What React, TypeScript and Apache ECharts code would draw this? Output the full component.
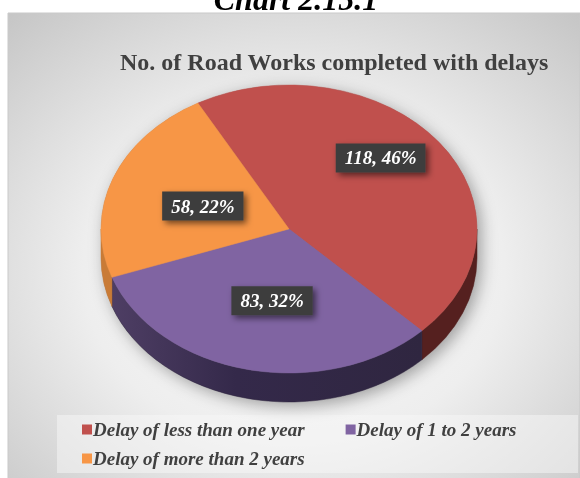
import React, { useEffect, useRef } from "react";
import * as echarts from "echarts";

const categories = [
  "Delay of less than one year",
  "Delay of 1 to 2 years",
  "Delay of more than 2 years",
];
const values = [118, 83, 58];
const topColors = ["#C0504D", "#8064A2", "#F79646"];
const chartTitle = "No. of Road Works completed with delays";
const pageTitle = "Chart 2.15.1";

// geometry / style (not data)
const CX = 289;
const CY = 229;
const RX = 188;
const RY = 144;
const DEPTH = 29;
const START_DEG = -29;
const labelFrac: number[][] = [
  [0.61, 0.82],
  [0.41, 0.51],
  [0.49, 0.45],
];

const total = values.reduce((a, b) => a + b, 0);
const deg = Math.PI / 180;

function angles(i: number): [number, number] {
  let s = START_DEG * deg;
  for (let k = 0; k < i; k++) s += (values[k] / total) * 2 * Math.PI;
  const e = s + (values[i] / total) * 2 * Math.PI;
  return [s, e];
}
function pt(t: number, dy = 0): string {
  return `${(CX + RX * Math.sin(t)).toFixed(2)} ${(CY - RY * Math.cos(t) + dy).toFixed(2)}`;
}

function topFace(i: number, api: any) {
  const [s, e] = angles(i);
  const large = e - s > Math.PI ? 1 : 0;
  const d = `M ${CX} ${CY} L ${pt(s)} A ${RX} ${RY} 0 ${large} 1 ${pt(e)} Z`;
  const mid = (s + e) / 2;
  const [fx, fy] = labelFrac[i];
  const lx = CX + fx * RX * Math.sin(mid);
  const ly = CY - fy * RY * Math.cos(mid);
  const v = api.value(0);
  const pct = Math.round((v / total) * 100);
  return {
    type: "group",
    children: [
      {
        type: "path",
        shape: { pathData: d },
        style: { fill: topColors[i], stroke: topColors[i], lineWidth: 0.5 },
        silent: true,
      },
      {
        type: "text",
        x: lx,
        y: ly,
        silent: true,
        style: {
          text: `${v}, ${pct}%`,
          fill: "#ffffff",
          font: 'italic bold 19px "Liberation Serif"',
          align: "center",
          verticalAlign: "middle",
          backgroundColor: "#3e3e3e",
          padding: [5, 9, 5, 9],
          shadowBlur: 6,
          shadowColor: "rgba(0,0,0,0.55)",
          shadowOffsetX: 3,
          shadowOffsetY: 3,
        },
      },
    ],
  };
}

const sideFills = () => [
  "#55201f",
  new echarts.graphic.LinearGradient(0, 0, 1, 0, [
    { offset: 0, color: "#4e3e64" },
    { offset: 0.4, color: "#34294a" },
    { offset: 1, color: "#2f2640" },
  ]),
  "#c97b36",
];

function sideWall(params: any) {
  const i = params.dataIndex;
  const [s, e] = angles(i);
  const a = Math.max(s, 90 * deg);
  const b = Math.min(e, 270 * deg);
  const children: any[] = [];
  if (i === 0) {
    const sil = `M ${CX - RX} ${CY} A ${RX} ${RY} 0 0 1 ${CX + RX} ${CY} L ${CX + RX} ${CY + DEPTH} A ${RX} ${RY} 0 0 1 ${CX - RX} ${CY + DEPTH} Z`;
    children.push({
      type: "path",
      shape: { pathData: sil },
      silent: true,
      style: {
        fill: "#888888",
        shadowBlur: 16,
        shadowColor: "rgba(0,0,0,0.35)",
        shadowOffsetX: 4,
        shadowOffsetY: 4,
      },
    });
  }
  if (b > a) {
    const d = `M ${pt(a)} A ${RX} ${RY} 0 0 1 ${pt(b)} L ${pt(b, DEPTH)} A ${RX} ${RY} 0 0 0 ${pt(a, DEPTH)} Z`;
    const fill = sideFills()[i];
    children.push({
      type: "path",
      shape: { pathData: d },
      silent: true,
      style: { fill, stroke: typeof fill === "string" ? fill : "#302741", lineWidth: 0.5 },
    });
  }
  return { type: "group", children };
}

export default function App() {
  const ref = useRef<HTMLDivElement>(null);
  useEffect(() => {
    if (!ref.current) return;
    const chart = echarts.init(ref.current, undefined, { renderer: "svg" });
    const legendText = {
      fontSize: 19,
      fontWeight: "bold",
      fontStyle: "italic",
      fontFamily: "Liberation Serif",
      color: "#404040",
      padding: [0, 0, 0, -4],
    };
    chart.setOption({
      animation: false,
      title: {
        text: chartTitle,
        left: 120,
        top: 50,
        padding: 0,
        textStyle: {
          fontSize: 24,
          fontWeight: "bold",
          fontFamily: "Liberation Serif",
          color: "#404040",
        },
      },
      graphic: [
        {
          type: "text",
          z: -20,
          x: 296,
          y: 15,
          style: {
            text: pageTitle,
            font: 'italic bold 32px "Liberation Serif"',
            fill: "#000000",
            align: "center",
            verticalAlign: "bottom",
          },
        },
        {
          type: "rect",
          z: -10,
          shape: { x: 8, y: 13, width: 572, height: 470 },
          style: {
            fill: new echarts.graphic.RadialGradient(0.5, 0.55, 0.82, [
              { offset: 0, color: "#fbfbfb" },
              { offset: 0.45, color: "#eeeeee" },
              { offset: 1, color: "#bdbdbd" },
            ]),
            stroke: "#c9c9c9",
            lineWidth: 1,
          },
        },
        {
          type: "rect",
          z: -5,
          shape: { x: 57, y: 415, width: 521, height: 58 },
          style: { fill: "rgba(248,248,248,0.5)" },
        },
      ],
      legend: [
        {
          data: [categories[0], categories[1]],
          left: 82,
          top: 420,
          padding: 0,
          itemWidth: 10,
          itemHeight: 10,
          itemGap: 41,
          icon: "rect",
          textStyle: legendText,
          selectedMode: false,
        },
        {
          data: [categories[2]],
          left: 82,
          top: 449,
          padding: 0,
          itemWidth: 10,
          itemHeight: 10,
          icon: "rect",
          textStyle: legendText,
          selectedMode: false,
        },
      ],
      series: [
        {
          type: "custom",
          name: "sides",
          coordinateSystem: "none",
          z: 1,
          silent: true,
          data: values,
          renderItem: (params: any) => sideWall(params),
        },
        ...categories.map((name, i) => ({
          type: "custom",
          name,
          coordinateSystem: "none",
          z: 3,
          silent: true,
          itemStyle: { color: topColors[i] },
          data: [values[i]],
          renderItem: (_p: any, api: any) => topFace(i, api),
        })),
      ],
    });
    return () => chart.dispose();
  }, []);
  return (
    <div
      ref={ref}
      style={{ position: "fixed", left: 0, top: 0, width: 580, height: 478 }}
    />
  );
}
